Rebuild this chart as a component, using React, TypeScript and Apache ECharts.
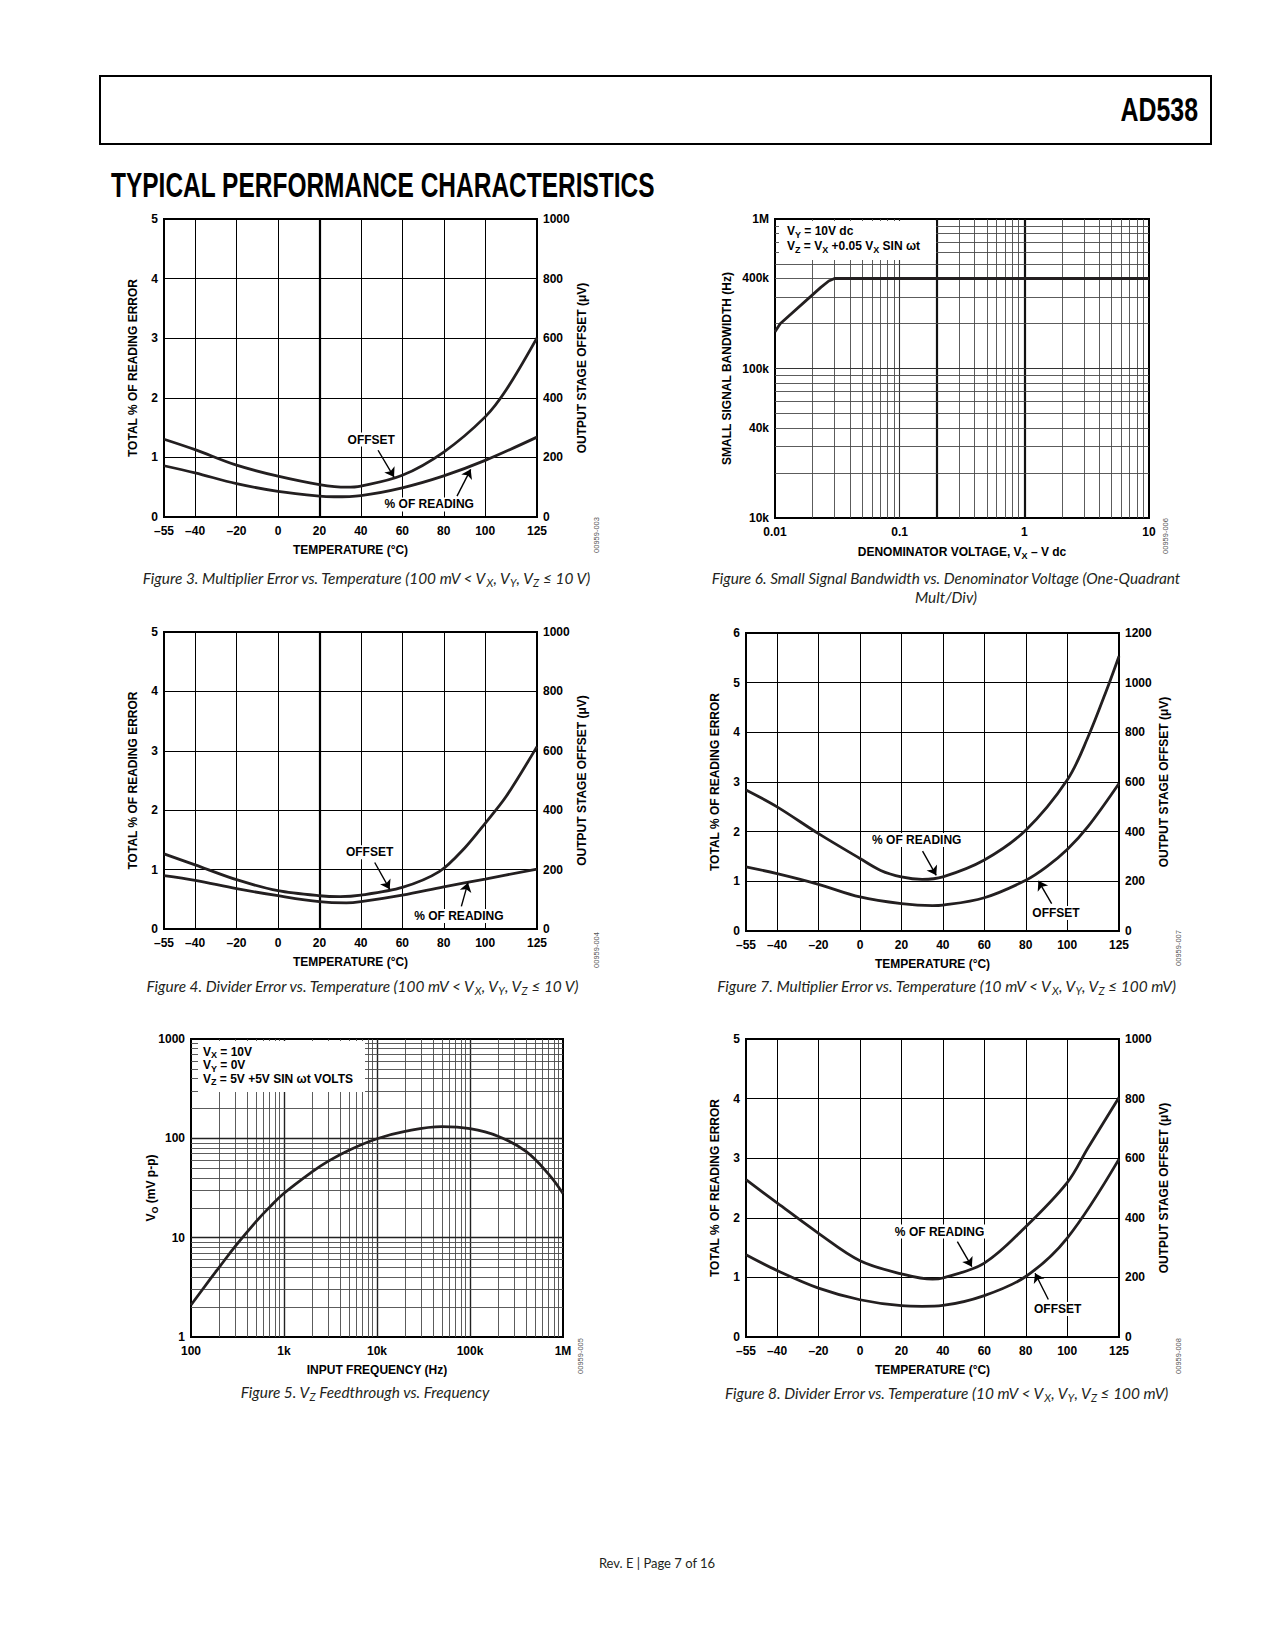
import React, { useEffect, useRef } from "react";
import * as echarts from "echarts";

const FONT = '"Liberation Sans", Arial, Helvetica, sans-serif';
const CAPTION_FONT = 'Lato, "Noto Sans", sans-serif';
const INK = "#231f20";

// ---------- temperature axis ----------
const TEMP_LABELS = [-55, -40, -20, 0, 20, 40, 60, 80, 100, 125];
const TEMP_GRID = [-40, -20, 0, 20, 40, 60, 80, 100];

// ---------- Figure 3 ----------
const fig3OffsetTemp = [-55, -40, -20, 0, 20, 33, 40, 60, 80, 100, 110, 125];
const fig3OffsetUV = [261, 226, 174, 137, 109, 100, 104, 140, 218, 336, 425, 601];
const fig3ReadingTemp = [-55, -40, -20, 0, 20, 27, 40, 60, 80, 100, 125];
const fig3ReadingPct = [0.86, 0.74, 0.56, 0.43, 0.35, 0.34, 0.36, 0.49, 0.69, 0.95, 1.34];
const fig3Notes = [
  { text: "OFFSET", at: [45, 1.3], from: [48.3, 1.12], to: [56, 0.67] },
  { text: "% OF READING", at: [73, 0.21], from: [86.4, 0.35], to: [93, 0.8] },
];

// ---------- Figure 4 ----------
const fig4OffsetTemp = [-55, -40, -20, 0, 20, 30, 40, 60, 78, 90, 100, 110, 125];
const fig4OffsetUV = [253, 216, 166, 129, 112, 109, 114, 140, 194, 272, 356, 445, 614];
const fig4ReadingTemp = [-55, -40, -20, 0, 20, 33, 40, 60, 80, 100, 125];
const fig4ReadingPct = [0.9, 0.82, 0.68, 0.56, 0.46, 0.44, 0.46, 0.57, 0.71, 0.84, 1.01];
const fig4Notes = [
  { text: "OFFSET", at: [44.2, 1.29], from: [46.7, 1.12], to: [53.9, 0.67] },
  { text: "% OF READING", at: [87.3, 0.22], from: [88.5, 0.38], to: [91.7, 0.78] },
];

// ---------- Figure 5 ----------
const fig5Freq = [100, 160, 200, 300, 500, 700, 1000, 2000, 3000, 5000, 10000, 20000, 50000, 100000, 200000, 400000, 700000, 1000000];
const fig5Vo = [2.1, 3.8, 5.0, 8.2, 14.5, 20.3, 28, 46, 59, 76, 99, 117.5, 131, 125, 105, 74, 43.6, 27.8];

// ---------- Figure 6 ----------
const fig6Vx = [0.01, 0.011, 0.0233, 0.027, 0.03, 10];
const fig6Bw = [176000, 199000, 349000, 385000, 400000, 400000];
const fig6ExtraLabels = [40000, 400000];

// ---------- Figure 7 ----------
const fig7ReadingTemp = [-55, -40, -20, 0, 10, 20, 30, 40, 60, 80, 100, 110, 120, 125];
const fig7ReadingPct = [2.84, 2.5, 1.96, 1.46, 1.22, 1.09, 1.04, 1.09, 1.43, 2.03, 3.04, 3.9, 4.96, 5.53];
const fig7OffsetTemp = [-55, -40, -20, 0, 20, 35, 40, 60, 80, 90, 100, 110, 125];
const fig7OffsetUV = [258, 231, 188, 137, 110, 102, 104, 134, 204, 258, 328, 420, 594];
const fig7Notes = [
  { text: "% OF READING", at: [27.4, 1.83], from: [30.2, 1.61], to: [36.8, 1.12] },
  { text: "OFFSET", at: [94.6, 0.36], from: [92.5, 0.55], to: [86.1, 1.01] },
];

// ---------- Figure 8 ----------
const fig8ReadingTemp = [-55, -40, -20, 0, 20, 35, 40, 60, 80, 100, 110, 125];
const fig8ReadingPct = [2.64, 2.25, 1.74, 1.28, 1.06, 0.97, 0.99, 1.24, 1.85, 2.59, 3.17, 4.02];
const fig8OffsetTemp = [-55, -40, -20, 0, 20, 30, 40, 60, 80, 100, 125];
const fig8OffsetUV = [276, 223, 164, 125, 105, 103, 106, 139, 203, 332, 597];
const fig8Notes = [
  { text: "% OF READING", at: [38.4, 1.77], from: [47, 1.6], to: [54, 1.18] },
  { text: "OFFSET", at: [95.4, 0.47], from: [90.9, 0.63], to: [84.5, 1.07] },
];

// ---------- helpers ----------
const zip = (xs: number[], ys: number[]) => xs.map((x, i) => [x, ys[i]]);
const fmtTemp = (v: number) => (v < 0 ? "\u2013" + Math.abs(v) : String(v));
const near = (a: number, b: number) => Math.abs(a - b) < 1e-9 * Math.max(1, Math.abs(b));

const labelStyle = { color: "#000", fontFamily: FONT, fontWeight: "bold", fontSize: 12 };
const subRich = {
  s: { color: "#000", fontFamily: FONT, fontWeight: "bold", fontSize: 9, lineHeight: 9, verticalAlign: "bottom" },
};
const nameStyle = { color: "#000", fontFamily: FONT, fontWeight: "bold", fontSize: 12, lineHeight: 16, rich: subRich };

function tempXAxis(gridIndex: number) {
  return {
    type: "value",
    gridIndex,
    min: -55,
    max: 125,
    interval: 5,
    axisLine: { show: false },
    axisTick: { show: false },
    minorTick: { show: false },
    splitLine: { show: false },
    axisLabel: {
      ...labelStyle,
      margin: 8,
      showMinLabel: true,
      showMaxLabel: true,
      formatter: (v: number) => (TEMP_LABELS.indexOf(v) >= 0 ? fmtTemp(v) : ""),
    },
    name: "TEMPERATURE (\u00B0C)",
    nameLocation: "middle",
    nameGap: 25,
    nameMoveOverlap: false,
    nameTextStyle: nameStyle,
  };
}

function pctYAxis(gridIndex: number, max: number) {
  return {
    type: "value",
    gridIndex,
    position: "left",
    min: 0,
    max,
    interval: 1,
    axisLine: { show: false },
    axisTick: { show: false },
    splitLine: { show: true, lineStyle: { color: "#000", width: 1 } },
    axisLabel: { ...labelStyle, margin: 6, showMinLabel: true, showMaxLabel: true, formatter: (v: number) => String(v) },
    name: "TOTAL % OF READING ERROR",
    nameLocation: "middle",
    nameGap: 23,
    nameRotate: 90,
    nameMoveOverlap: false,
    nameTextStyle: nameStyle,
  };
}

function uvYAxis(gridIndex: number, max: number) {
  return {
    type: "value",
    gridIndex,
    position: "right",
    min: 0,
    max,
    interval: 200,
    axisLine: { show: false },
    axisTick: { show: false },
    splitLine: { show: false },
    axisLabel: { ...labelStyle, margin: 6, showMinLabel: true, showMaxLabel: true, formatter: (v: number) => String(v) },
    name: "OUTPUT STAGE OFFSET (\u03BCV)",
    nameLocation: "middle",
    nameGap: 37,
    nameRotate: 90,
    nameMoveOverlap: false,
    nameTextStyle: nameStyle,
  };
}

function logAxis(gridIndex: number, min: number, max: number, fmt: (v: number) => string, extra: any) {
  return {
    type: "log",
    logBase: 10,
    gridIndex,
    min,
    max,
    axisLine: { show: false },
    axisTick: { show: false },
    minorTick: { show: false },
    splitLine: { show: false },
    minorSplitLine: { show: false },
    nameLocation: "middle",
    nameMoveOverlap: false,
    nameTextStyle: nameStyle,
    ...extra,
    axisLabel: { ...labelStyle, showMinLabel: true, showMaxLabel: true, formatter: fmt, ...(extra.axisLabel || {}) },
  };
}

function curve(xi: number, yi: number, xs: number[], ys: number[], smooth: number | boolean = 0.35) {
  return {
    type: "line",
    xAxisIndex: xi,
    yAxisIndex: yi,
    data: zip(xs, ys),
    smooth,
    symbol: "none",
    showSymbol: false,
    silent: true,
    clip: true,
    lineStyle: { color: INK, width: 2.8 },
    z: 3,
  };
}

const vLine = (v: number, width = 1, color = "#000") => ({ xAxis: v, lineStyle: { color, width, type: "solid" } });
const hLine = (v: number, width = 1, color = "#000") => ({ yAxis: v, lineStyle: { color, width, type: "solid" } });

function gridML(items: any[]) {
  return {
    silent: true,
    symbol: ["none", "none"],
    z: 1,
    animation: false,
    label: { show: false },
    emphasis: { disabled: true },
    data: items,
  };
}

function arrowML(notes: any[]) {
  return {
    silent: true,
    symbol: ["none", "arrow"],
    symbolSize: 9,
    animation: false,
    label: { show: false },
    emphasis: { disabled: true },
    lineStyle: { color: "#000", width: 1.4, type: "solid" },
    data: notes.map((n) => [{ coord: n.from }, { coord: n.to }]),
  };
}

function noteMP(notes: any[]) {
  return {
    silent: true,
    symbol: "rect",
    symbolSize: 1,
    animation: false,
    itemStyle: { color: "rgba(0,0,0,0)" },
    label: {
      show: true,
      position: "inside",
      formatter: (p: any) => p.name,
      color: "#000",
      fontFamily: FONT,
      fontWeight: "bold",
      fontSize: 12,
      backgroundColor: "#fff",
      padding: [1, 2],
    },
    data: notes.map((n) => ({ name: n.text, coord: n.at })),
  };
}

function logMinor(fromExp: number, toExp: number) {
  const out: number[] = [];
  for (let e = fromExp; e < toExp; e++) for (let k = 2; k <= 9; k++) out.push(k * Math.pow(10, e));
  return out;
}

const fmtFreq = (v: number) => {
  const r = Math.round(v);
  if (r >= 1e6) return r / 1e6 + "M";
  if (r >= 1e3) return r / 1e3 + "k";
  return String(r);
};
const fmtVolt = (v: number) => String(Number(v.toPrecision(2)));
const fmtPlain = (v: number) => String(Math.round(v));
const fmtHz = (v: number) => {
  const r = Math.round(v);
  if (r >= 1e6) return r / 1e6 + "M";
  return r / 1e3 + "k";
};

// ---------- texts ----------
const capRich = {
  s: { fontFamily: CAPTION_FONT, fontStyle: "italic", fontSize: 11, lineHeight: 11, fill: INK, verticalAlign: "bottom" },
};
function caption(x: number, y: number, text: string) {
  return {
    type: "text",
    x,
    y,
    z: 100,
    silent: true,
    style: {
      text,
      fill: INK,
      fontFamily: CAPTION_FONT,
      fontStyle: "italic",
      fontSize: 15.4,
      lineHeight: 20,
      align: "center",
      verticalAlign: "middle",
      rich: capRich,
    },
  };
}
const boxRich = {
  s: { fontFamily: FONT, fontWeight: "bold", fontSize: 9, lineHeight: 9, fill: "#000", verticalAlign: "bottom" },
};
function boxText(x: number, y: number, text: string) {
  return {
    type: "text",
    x,
    y,
    z: 101,
    silent: true,
    style: {
      text,
      fill: "#000",
      fontFamily: FONT,
      fontWeight: "bold",
      fontSize: 12,
      lineHeight: 16,
      align: "left",
      verticalAlign: "middle",
      rich: boxRich,
    },
  };
}
function code(x: number, y: number, text: string) {
  return {
    type: "text",
    x,
    y,
    rotation: Math.PI / 2,
    z: 100,
    silent: true,
    style: { text, fill: "#555", fontFamily: FONT, fontSize: 7.5, align: "center", verticalAlign: "middle" },
  };
}

function buildOption() {
  const grids = [
    { left: 164, top: 219, width: 373, height: 298 },
    { left: 164, top: 632, width: 373, height: 297 },
    { left: 191, top: 1039, width: 372, height: 298 },
    { left: 775, top: 219, width: 374, height: 299 },
    { left: 746, top: 633, width: 373, height: 298 },
    { left: 746, top: 1039, width: 373, height: 298 },
  ].map((g) => ({
    ...g,
    show: true,
    borderColor: "#000",
    borderWidth: 2,
    backgroundColor: "transparent",
    containLabel: false,
    outerBoundsMode: "none",
  }));

  const xAxis = [
    tempXAxis(0),
    tempXAxis(1),
    logAxis(2, 100, 1000000, fmtFreq, { name: "INPUT FREQUENCY (Hz)", nameGap: 25, axisLabel: { margin: 8 } }),
    logAxis(3, 0.01, 10, fmtVolt, { name: "DENOMINATOR VOLTAGE, V{s|X} \u2013 V dc", nameGap: 26, axisLabel: { margin: 8 } }),
    tempXAxis(4),
    tempXAxis(5),
  ];
  const yAxis = [
    pctYAxis(0, 5),
    uvYAxis(0, 1000),
    pctYAxis(1, 5),
    uvYAxis(1, 1000),
    logAxis(2, 1, 1000, fmtPlain, { name: "V{s|O} (mV p-p)", nameGap: 32, nameRotate: 90, axisLabel: { margin: 6 } }),
    logAxis(3, 10000, 1000000, fmtHz, { name: "SMALL SIGNAL BANDWIDTH (Hz)", nameGap: 40, nameRotate: 90, axisLabel: { margin: 6 } }),
    pctYAxis(4, 6),
    uvYAxis(4, 1200),
    pctYAxis(5, 5),
    uvYAxis(5, 1000),
  ];

  const tempGrid = (thick20: boolean) => TEMP_GRID.map((v) => vLine(v, thick20 && v === 20 ? 2.2 : 1, "#000"));

  const fig5Lines = [
    ...logMinor(2, 6).map((v) => vLine(v, 0.9, "#4a4a4a")),
    ...[1e3, 1e4, 1e5].map((v) => vLine(v, 1.4, "#222")),
    ...logMinor(0, 3).map((v) => hLine(v, 0.9, "#4a4a4a")),
    ...[10, 100].map((v) => hLine(v, 1.4, "#222")),
  ];

  const fig6Lines = [
    ...logMinor(-2, 1).map((v) => vLine(v, near(v, 0.2) ? 2.2 : 0.9, near(v, 0.2) ? "#111" : "#4a4a4a")),
    vLine(0.1, 1.1, "#333"),
    vLine(1, 2.2, "#111"),
    ...logMinor(4, 6).map((v) => {
      const item: any = hLine(v, 0.9, "#4a4a4a");
      if (fig6ExtraLabels.some((e) => near(e, v))) {
        item.label = {
          show: true,
          position: "start",
          distance: 6,
          formatter: fmtHz(v),
          color: "#000",
          fontFamily: FONT,
          fontWeight: "bold",
          fontSize: 12,
        };
      }
      return item;
    }),
    hLine(1e5, 1.1, "#333"),
  ];

  const series: any[] = [
    // Figure 3
    { ...curve(0, 1, fig3OffsetTemp, fig3OffsetUV), markLine: gridML(tempGrid(true)) },
    { ...curve(0, 0, fig3ReadingTemp, fig3ReadingPct), markLine: arrowML(fig3Notes), markPoint: noteMP(fig3Notes) },
    // Figure 4
    { ...curve(1, 3, fig4OffsetTemp, fig4OffsetUV, 0.3), markLine: gridML(tempGrid(true)) },
    { ...curve(1, 2, fig4ReadingTemp, fig4ReadingPct), markLine: arrowML(fig4Notes), markPoint: noteMP(fig4Notes) },
    // Figure 5
    { ...curve(2, 4, fig5Freq, fig5Vo, 0.4), markLine: gridML(fig5Lines) },
    // Figure 6
    { ...curve(3, 5, fig6Vx, fig6Bw, false), markLine: gridML(fig6Lines) },
    // Figure 7
    { ...curve(4, 7, fig7OffsetTemp, fig7OffsetUV), markLine: gridML(tempGrid(false)) },
    { ...curve(4, 6, fig7ReadingTemp, fig7ReadingPct), markLine: arrowML(fig7Notes), markPoint: noteMP(fig7Notes) },
    // Figure 8
    { ...curve(5, 9, fig8OffsetTemp, fig8OffsetUV), markLine: gridML(tempGrid(false)) },
    { ...curve(5, 8, fig8ReadingTemp, fig8ReadingPct), markLine: arrowML(fig8Notes), markPoint: noteMP(fig8Notes) },
  ];

  const graphic: any[] = [
    // header
    {
      type: "rect",
      z: 100,
      silent: true,
      shape: { x: 100, y: 76, width: 1111, height: 68 },
      style: { fill: "none", stroke: "#000", lineWidth: 2 },
    },
    {
      type: "text",
      x: 1198,
      y: 109.5,
      scaleX: 0.733,
      z: 100,
      silent: true,
      style: { text: "AD538", fill: "#000", fontFamily: FONT, fontWeight: "bold", fontSize: 34, align: "right", verticalAlign: "middle" },
    },
    {
      type: "text",
      x: 111,
      y: 185,
      scaleX: 0.7,
      z: 100,
      silent: true,
      style: {
        text: "TYPICAL PERFORMANCE CHARACTERISTICS",
        fill: "#000",
        fontFamily: FONT,
        fontWeight: "bold",
        fontSize: 35,
        align: "left",
        verticalAlign: "middle",
      },
    },
    // legend boxes
    { type: "rect", z: 50, silent: true, shape: { x: 198, y: 1041, width: 167, height: 51 }, style: { fill: "#fff" } },
    boxText(203, 1051.5, "V{s|X} = 10V"),
    boxText(203, 1065, "V{s|Y} = 0V"),
    boxText(203, 1078.5, "V{s|Z} = 5V +5V SIN \u03C9t VOLTS"),
    { type: "rect", z: 50, silent: true, shape: { x: 779, y: 221, width: 157, height: 39 }, style: { fill: "#fff" } },
    boxText(787, 231, "V{s|Y} = 10V dc"),
    boxText(787, 246, "V{s|Z} = V{s|X} +0.05 V{s|X} SIN \u03C9t"),
    // captions
    caption(366, 578, "Figure 3. Multiplier Error vs. Temperature (100 mV < V{s|X}, V{s|Y}, V{s|Z} \u2264 10 V)"),
    caption(946, 577.5, "Figure 6. Small Signal Bandwidth vs. Denominator Voltage (One-Quadrant"),
    caption(946, 596.5, "Mult/Div)"),
    caption(362, 986, "Figure 4. Divider Error vs. Temperature (100 mV < V{s|X}, V{s|Y}, V{s|Z} \u2264 10 V)"),
    caption(946, 986, "Figure 7. Multiplier Error vs. Temperature (10 mV < V{s|X}, V{s|Y}, V{s|Z} \u2264 100 mV)"),
    caption(365, 1392, "Figure 5. V{s|Z} Feedthrough vs. Frequency"),
    caption(946, 1393, "Figure 8. Divider Error vs. Temperature (10 mV < V{s|X}, V{s|Y}, V{s|Z} \u2264 100 mV)"),
    // figure codes
    code(596.7, 535, "00959-003"),
    code(596.7, 950, "00959-004"),
    code(580.5, 1356, "00959-005"),
    code(1165, 536, "00959-006"),
    code(1178.5, 948, "00959-007"),
    code(1178.5, 1356, "00959-008"),
    // footer
    {
      type: "text",
      x: 657,
      y: 1563,
      z: 100,
      silent: true,
      style: {
        text: "Rev. E | Page 7 of 16",
        fill: INK,
        fontFamily: CAPTION_FONT,
        fontSize: 13,
        align: "center",
        verticalAlign: "middle",
      },
    },
  ];

  return {
    animation: false,
    backgroundColor: "#fff",
    textStyle: { fontFamily: FONT },
    grid: grids,
    xAxis,
    yAxis,
    series,
    graphic,
  };
}

export default function App() {
  const ref = useRef<HTMLDivElement>(null);
  useEffect(() => {
    if (!ref.current) return;
    const chart = echarts.init(ref.current, null, { renderer: "svg" });
    chart.setOption(buildOption() as any);
    return () => chart.dispose();
  }, []);
  return (
    <div
      ref={ref}
      style={{ position: "absolute", left: 0, top: 0, width: 1275, height: 1650, background: "#fff" }}
    />
  );
}
